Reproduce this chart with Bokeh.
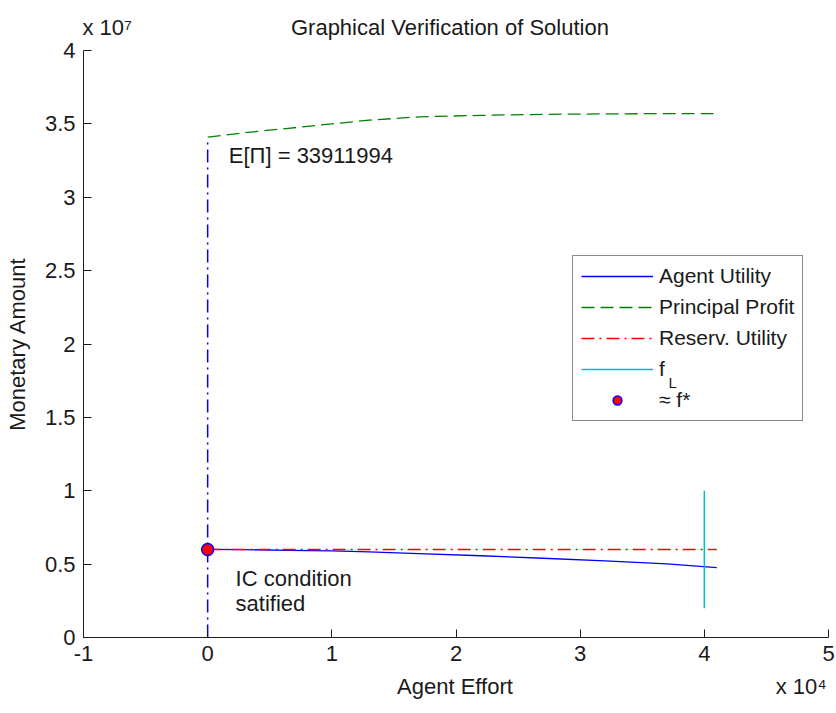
from bokeh.plotting import figure
from bokeh.models import Range1d, FixedTicker, Label, Legend, LegendItem
from bokeh.embed import file_html
from bokeh.resources import INLINE

# ---------------- data ----------------
effort = [0, 3000, 6500, 10000, 13000, 17000, 22000, 27000, 32000, 37000, 41000]
agent_utility = [6.00e6, 5.99e6, 5.94e6, 5.90e6, 5.83e6, 5.72e6, 5.57e6, 5.40e6, 5.22e6, 5.02e6, 4.76e6]
principal_profit = [3.410e7, 3.440e7, 3.470e7, 3.500e7, 3.525e7, 3.548e7, 3.558e7, 3.565e7, 3.568e7, 3.570e7, 3.570e7]
reserv_x = [0, 41000]
reserv_utility = [6.0e6, 6.0e6]
expected_profit = 33911994
ic_x = [0, 0]
ic_y = [0, expected_profit]
fL_x = [40000, 40000]
fL_y = [2.0e6, 1.0e7]
fstar_x = [0]
fstar_y = [6.0e6]

x_ticks = [-10000, 0, 10000, 20000, 30000, 40000, 50000]
x_tick_labels = ["-1", "0", "1", "2", "3", "4", "5"]
y_ticks = [0, 5e6, 1e7, 1.5e7, 2e7, 2.5e7, 3e7, 3.5e7, 4e7]
y_tick_labels = ["0", "0.5", "1", "1.5", "2", "2.5", "3", "3.5", "4"]
x_exponent = "x 10\u2074"
y_exponent = "x 10\u2077"
title_text = "Graphical Verification of Solution"
x_label = "Agent Effort"
y_label = "Monetary Amount"

# ---------------- layout ----------------
FONT = "Liberation Sans"
W, H = 836, 713
L, T, FW, FH = 83, 50, 745, 587
XMIN, XMAX = -10000, 50000
YMIN, YMAX = 0, 4e7
INK = "#1a1a1a"
NB = "\u00a0"


def dx(px):
    return XMIN + (px - L) / FW * (XMAX - XMIN)


def dy(py):
    return YMIN + (T + FH - py) / FH * (YMAX - YMIN)


p = figure(width=W, height=H, output_backend="svg", toolbar_location=None,
           x_range=Range1d(XMIN, XMAX), y_range=Range1d(YMIN, YMAX),
           min_border_left=L, min_border_right=W - L - FW,
           min_border_top=T, min_border_bottom=H - T - FH)
p.outline_line_color = None
p.background_fill_color = "white"
p.border_fill_color = "white"
p.grid.visible = False

# title row also carries the y-axis exponent at its left end
p.title.text = y_exponent + NB * 26 + title_text
p.title.align = "left"
p.title.offset = -1
p.title.text_font = FONT
p.title.text_font_size = "22px"
p.title.text_font_style = "normal"
p.title.text_color = INK
p.title.standoff = 21

for ax, ticks, labels in ((p.xaxis, x_ticks, x_tick_labels), (p.yaxis, y_ticks, y_tick_labels)):
    ax.ticker = FixedTicker(ticks=ticks)
    ax.major_label_overrides = {t: s for t, s in zip(ticks, labels)}
    ax.major_tick_in = 8
    ax.major_tick_out = 0
    ax.minor_tick_line_color = None
    ax.axis_line_color = INK
    ax.major_tick_line_color = INK
    ax.major_label_text_font = FONT
    ax.major_label_text_font_size = "22px"
    ax.major_label_text_color = INK
    ax.axis_label_text_font = FONT
    ax.axis_label_text_font_size = "22px"
    ax.axis_label_text_font_style = "normal"
    ax.axis_label_text_color = INK
    ax.major_label_standoff = 8

# x label row also carries the x-axis exponent at its right end (centred string)
p.xaxis.axis_label = NB * 51 + x_label + NB * 43 + x_exponent
p.yaxis.axis_label = y_label
p.xaxis.axis_label_standoff = 10
p.yaxis.axis_label_standoff = 12

# ---------------- marks ----------------
r_agent = p.line(effort, agent_utility, line_color="#0000ff", line_width=1.3)
r_profit = p.line(effort, principal_profit, line_color="#008000", line_width=1.3, line_dash="13 6")
r_reserv = p.line(reserv_x, reserv_utility, line_color="#ff0000", line_width=1.5, line_dash="13 5 2 5")
p.line(ic_x, ic_y, line_color="#0000ff", line_width=1.5, line_dash="13 5 2 5")
r_fL = p.line(fL_x, fL_y, line_color="#00bfbf", line_width=1.5)
r_star = p.scatter(fstar_x, fstar_y, size=12, marker="circle", fill_color="#ff0000",
                   line_color="#0000ff", line_width=1.5)

# ---------------- annotations ----------------
def add_label(x, y, text, size="22px", align="left"):
    p.add_layout(Label(x=x, y=y, text=text, text_font=FONT, text_font_size=size,
                       text_color=INK, text_baseline="middle", text_align=align))

add_label(1700, 3.284e7, "E[\u03a0] = %d" % expected_profit)
add_label(2250, 4.0e6, "IC condition")
add_label(2250, 2.3e6, "satified")

# subscript of f_L in the legend (drawn beneath the transparent legend)
add_label(dx(668), dy(382), "L", size="15px")

legend = Legend(items=[
    LegendItem(label="Agent Utility", renderers=[r_agent]),
    LegendItem(label="Principal Profit", renderers=[r_profit]),
    LegendItem(label="Reserv. Utility", renderers=[r_reserv]),
    LegendItem(label="f", renderers=[r_fL]),
    LegendItem(label="\u2248 f*", renderers=[r_star]),
], location=(572 - L, T + FH - 421))
legend.label_text_font = FONT
legend.label_text_font_size = "21px"
legend.label_text_color = INK
legend.glyph_width = 72
legend.glyph_height = 22
legend.label_height = 22
legend.spacing = 7
legend.padding = 8
legend.margin = 0
legend.label_standoff = 6
legend.border_line_color = INK
legend.border_line_width = 1
legend.background_fill_alpha = 0.0
p.add_layout(legend)

open("out.html", "w").write(file_html(p, INLINE))
